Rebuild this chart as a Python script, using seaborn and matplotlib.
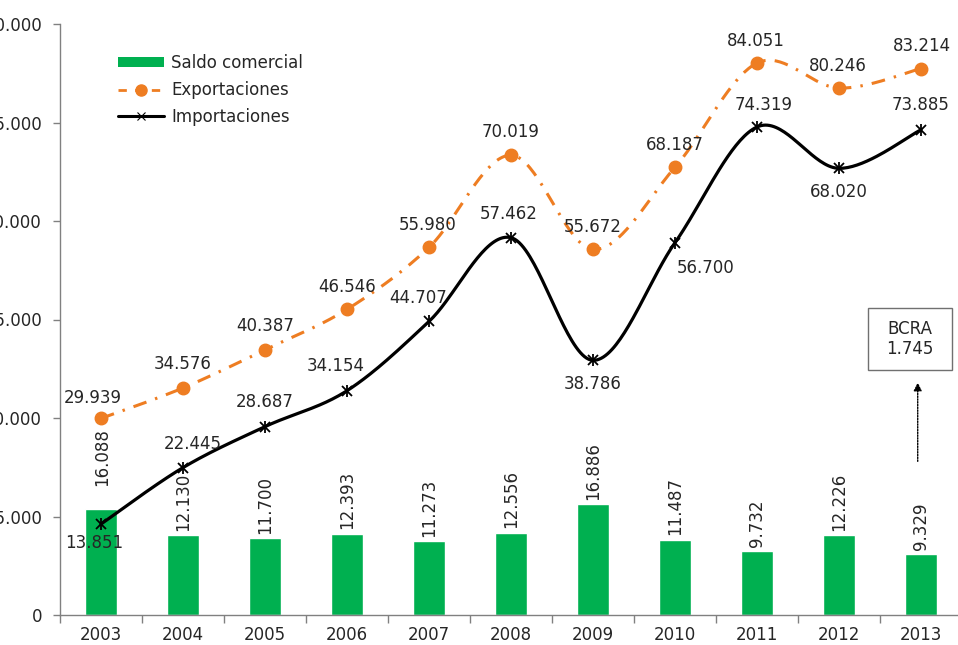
import numpy as np
import pandas as pd
import matplotlib
matplotlib.use("Agg")
import matplotlib.pyplot as plt
from matplotlib.lines import Line2D
from matplotlib.patches import Patch, Rectangle
import seaborn as sns

years = ["2003", "2004", "2005", "2006", "2007", "2008", "2009", "2010", "2011", "2012", "2013"]
saldo = [16088, 12130, 11700, 12393, 11273, 12556, 16886, 11487, 9732, 12226, 9329]
exportaciones = [29939, 34576, 40387, 46546, 55980, 70019, 55672, 68187, 84051, 80246, 83214]
importaciones = [13851, 22445, 28687, 34154, 44707, 57462, 38786, 56700, 74319, 68020, 73885]
y_ticks = [0, 15000, 30000, 45000, 60000, 75000, 90000]
bcra_value = 1745

GREEN = "#00B050"
ORANGE = "#EE7D22"
TXT = "#262626"
FS = 12

sns.set_theme(style="white")
plt.rcParams["font.family"] = ["DejaVu Sans"]


def fmt(v):
    return f"{v:,}".replace(",", ".")


def smooth(x, y, n=40):
    P = np.column_stack([x, y]).astype(float)
    out = []
    for i in range(len(P) - 1):
        p0 = P[i - 1] if i > 0 else P[i]
        p1, p2 = P[i], P[i + 1]
        p3 = P[i + 2] if i + 2 < len(P) else P[i + 1]
        c1 = p1 + (p2 - p0) / 6
        c2 = p2 - (p3 - p1) / 6
        t = np.linspace(0, 1, n)[:, None]
        b = (1 - t) ** 3 * p1 + 3 * (1 - t) ** 2 * t * c1 + 3 * (1 - t) * t ** 2 * c2 + t ** 3 * p2
        out.append(b if i == 0 else b[1:])
    a = np.vstack(out)
    return a[:, 0], a[:, 1]


df = pd.DataFrame({"year": years, "saldo": saldo,
                   "exp": exportaciones, "imp": importaciones})
xs = np.arange(len(years))

fig = plt.figure(figsize=(9.58, 6.45), dpi=100)
ax = fig.add_axes([60 / 958, 1 - 615 / 645, 902 / 958, (615 - 24) / 645])

sns.barplot(data=df, x="year", y="saldo", color=GREEN, width=0.39,
            saturation=1, ax=ax, zorder=2)

# exports smoothed dash-dot line
sx, sy = smooth(xs, exportaciones)
ax.plot(sx, sy, color=ORANGE, lw=2.2, linestyle=(0, (4.5, 3, 0.8, 3)), zorder=3)
ax.plot(xs, exportaciones, linestyle="none", marker="o", ms=9, color=ORANGE, zorder=4)

# imports smoothed solid line
ix, iy = smooth(xs, importaciones)
ax.plot(ix, iy, color="black", lw=2.3, zorder=5)
ax.plot(xs, importaciones, linestyle="none", marker="x", ms=7.5, mew=1.3, color="black", zorder=6)
ax.plot(xs, importaciones, linestyle="none", marker="|", ms=8.5, mew=1.3, color="black", zorder=6)

# labels exports
exp_off = [(-6, 15), (0, 17), (0, 17), (0, 16), (-1, 16), (0, 17), (0, 16), (0, 16), (-1, 16), (-1, 16), (1, 16)]
for i, v in enumerate(exportaciones):
    ax.annotate(fmt(v), (xs[i], v), xytext=exp_off[i], textcoords="offset points",
                ha="center", va="center", fontsize=FS, color=TXT, zorder=7)

imp_off = [(-5, -14), (7, 17), (0, 18), (-8, 18), (-8, 17), (-2, 17), (0, -17), (22, -18), (5, 16), (0, -17), (0, 18)]
for i, v in enumerate(importaciones):
    ax.annotate(fmt(v), (xs[i], v), xytext=imp_off[i], textcoords="offset points",
                ha="center", va="center", fontsize=FS, color=TXT, zorder=7)

bar_off = [(1, 17), (0, 3), (0, 3), (0, 3), (0, 3), (0, 3), (0, 3), (0, 3), (0, 3), (0, 3), (0, 3)]
for i, v in enumerate(saldo):
    ax.annotate(fmt(v), (xs[i], v), xytext=bar_off[i], textcoords="offset points",
                ha="center", va="bottom", rotation=90, fontsize=FS, color=TXT, zorder=7)

# BCRA box and arrow
ax.add_patch(Rectangle((9.354, 37310), 1.024, 9440, transform=ax.transData,
                       fc="white", ec="#707070", lw=1, zorder=8, clip_on=False))
ax.text(9.866, 42030, "BCRA\n" + fmt(bcra_value), ha="center", va="center",
        fontsize=FS, color=TXT, linespacing=1.1, zorder=9)
ax.annotate("", xy=(9.96, 35400), xytext=(9.96, 23400),
            arrowprops=dict(arrowstyle="-|>", linestyle=(0, (1, 1)), color="black",
                            lw=1, mutation_scale=12, shrinkA=0, shrinkB=0), zorder=8)

ax.set_ylim(0, 90000)
ax.set_xlim(-0.5, 10.5)
ax.set_yticks(y_ticks)
ax.set_yticklabels([fmt(v) for v in y_ticks])
ax.set_xlabel("")
ax.set_ylabel("")
ax.tick_params(axis="y", length=5, width=1, color="#808080", pad=8, labelsize=FS, labelcolor=TXT, left=True)
ax.tick_params(axis="x", which="major", length=0, pad=8, labelsize=FS, labelcolor=TXT)
ax.set_xticks(np.arange(-0.5, 11, 1), minor=True)
ax.tick_params(axis="x", which="minor", length=6, width=1, color="#808080", bottom=True)
for s in ["top", "right"]:
    ax.spines[s].set_visible(False)
for s in ["left", "bottom"]:
    ax.spines[s].set_color("#808080")
    ax.spines[s].set_linewidth(1)
ax.grid(False)

handles = [
    Patch(facecolor=GREEN, edgecolor="none", label="Saldo comercial"),
    Line2D([], [], color=ORANGE, lw=2, linestyle=(0, (3, 3)), marker="o", ms=8, label="Exportaciones"),
    Line2D([], [], color="black", lw=2.2, marker="x", ms=6, mew=0.8, label="Importaciones"),
]
leg = ax.legend(handles=handles, loc="upper left", bbox_to_anchor=(0.064, 0.949),
                frameon=False, fontsize=FS, handlelength=2.8, handleheight=0.5,
                handletextpad=0.42, labelspacing=0.53, borderaxespad=0, borderpad=0)
for t in leg.get_texts():
    t.set_color(TXT)

fig.savefig("out.png", dpi=100)
